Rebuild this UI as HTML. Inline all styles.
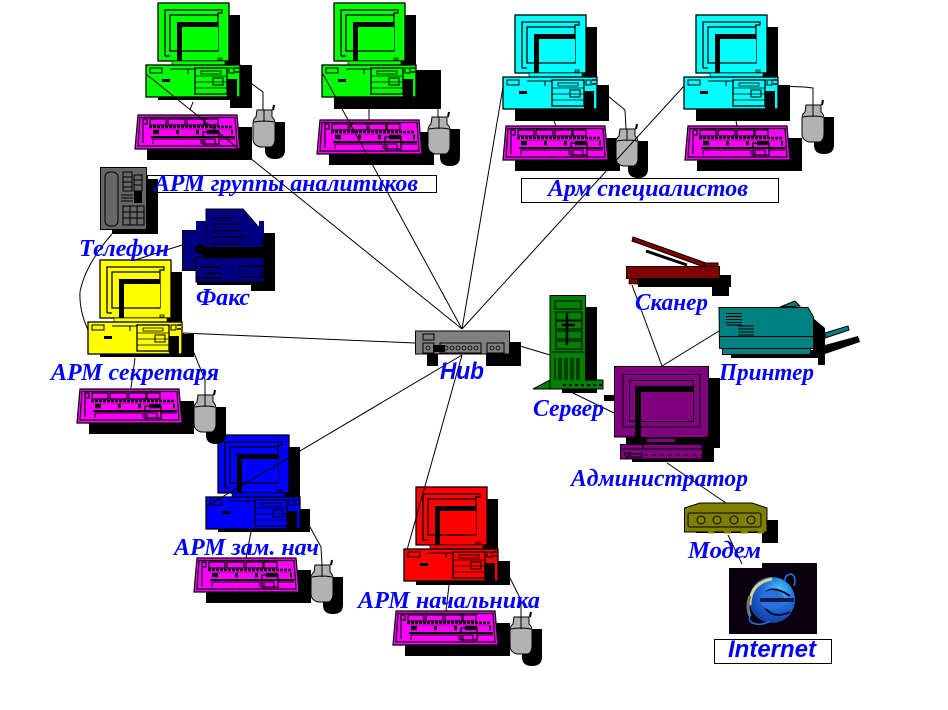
<!DOCTYPE html>
<html><head><meta charset="utf-8"><style>
html,body{margin:0;padding:0;background:#fff}
svg{display:block}
.t{font-family:"Liberation Serif","Noto Serif CJK SC",serif;font-style:italic;font-weight:bold;font-size:24px;fill:#00f}
.s{font-family:"Liberation Sans",sans-serif;font-style:italic;font-weight:bold;font-size:24px;fill:#00f}
</style></head><body>
<svg width="948" height="710" viewBox="0 0 948 710" xmlns="http://www.w3.org/2000/svg">
<defs>
<radialGradient id="ie" cx="65%" cy="30%" r="75%"><stop offset="0" stop-color="#4fd0f5"/><stop offset=".45" stop-color="#1f6fe0"/><stop offset="1" stop-color="#123a9c"/></radialGradient>
<g id="pc">
<rect x="40" y="-50" width="54" height="50" fill="#000"/>
<rect x="12" y="-62" width="71" height="58" fill="currentColor" stroke="#000" stroke-width="1.300"/>
<path d="M19 -9V-55H76V-52H72V-14H24V-50H72" fill="none" stroke="#000" stroke-width="1.300"/>
<path d="M19 -9H24" stroke="#000" stroke-width="1.300"/>
<rect x="36" y="-38" width="36" height="23" fill="currentColor"/>
<path d="M31 -43H72V-38H36V-15H36V-2H31Z" fill="#000"/>
<rect x="72" y="-7" width="4" height="2" fill="none" stroke="#000" stroke-width=".8"/>
<rect x="26" y="-4" width="53" height="4" fill="currentColor" stroke="#000" stroke-width=".6"/>
<rect x="0" y="0" width="94" height="32" fill="currentColor" stroke="#000" stroke-width="1.300"/>
<rect x="4" y="3" width="12" height="5" fill="none" stroke="#000"/>
<rect x="16" y="14" width="8" height="3" fill="#000"/>
<path d="M24 4H81M42 4V9" stroke="#000" fill="none"/>
<rect x="49" y="3" width="32" height="26" fill="currentColor" stroke="#000" stroke-width="1.300"/>
<rect x="55" y="6" width="20" height="3" fill="none" stroke="#000" stroke-width=".8"/>
<path d="M49 11H81M49 17H81M49 23H81" stroke="#000" stroke-width=".8"/>
<rect x="67" y="13" width="10" height="7" fill="none" stroke="#000"/>
<rect x="83" y="3" width="5" height="5" fill="none" stroke="#000"/>
<path d="M89 3H93M89 7H93" stroke="#000" stroke-width="1.400"/>
<rect x="81" y="14" width="10" height="18" fill="#000"/>
</g>
<g id="kb">
<rect x="12" y="12" width="105" height="33" fill="#000"/>
<path d="M3 0H102L105 34H0Z" fill="#f0f" stroke="#000" stroke-width="1.200"/>
<path d="M5 2.500H100L102 31H3Z" fill="none" stroke="#000" stroke-width="1.200"/>
<g fill="none" stroke="#000" stroke-width="1.200"><rect x="15" y="4" width="16" height="6"/><rect x="33" y="4" width="17" height="6"/><rect x="52" y="4" width="17" height="6"/><rect x="70" y="4" width="13" height="6"/><rect x="8" y="4" width="4" height="5"/></g>
<path d="M14 12H98" stroke="#000" stroke-width="2.500" stroke-dasharray="3 1"/>
<path d="M18 17H98" stroke="#000" stroke-width="4.500"/>
<rect x="24" y="15" width="17" height="6" fill="#f0f"/><rect x="44" y="15" width="17" height="6" fill="#f0f"/><rect x="64" y="15" width="8" height="6" fill="#f0f"/><rect x="84" y="15" width="12" height="6" fill="#f0f"/>
<path d="M16 22H100" stroke="#000" stroke-width="2"/>
<path d="M18 29V24H66V29M70 30V24H80V30M84 30V24H100" fill="none" stroke="#000"/>
<path d="M68 17H84V29H68Z" fill="none" stroke="#000" stroke-width="1.300"/>
<path d="M8 10V28" stroke="#000" stroke-width="1.200"/>
</g>
<g id="ms">
<path d="M12 12H32V40Q32 49 22 49Q12 49 12 40Z" fill="#000"/>
<path d="M4 0H19L19 7Q22 9 22 14V29Q22 35 18 37H7Q0 35 0 29V14Q0 9 3 7Z" fill="#b2b2b2" stroke="#000"/>
<path d="M11 0V12M1 12Q11 10 21 12" fill="none" stroke="#000"/>
<path d="M20 0L21 -5" stroke="#000" stroke-width="2"/>
</g>
</defs>

<!-- boxes -->
<rect x="147.500" y="175.500" width="289" height="17" fill="#fff" stroke="#000"/>
<rect x="521.500" y="178.500" width="257" height="24" fill="#fff" stroke="#000"/>
<rect x="714.500" y="639.500" width="117" height="24" fill="#fff" stroke="#000"/>

<!-- shadows of case bottoms -->
<path d="M158 65H252V108H230V100H158Z" fill="#000"/>
<rect x="334" y="70" width="107" height="39" fill="#000"/>
<rect x="515" y="85" width="94" height="36" fill="#000"/>
<rect x="696" y="85" width="94" height="36" fill="#000"/>
<rect x="100" y="334" width="94" height="23" fill="#000"/>
<rect x="218" y="509" width="92" height="23" fill="#000"/>
<rect x="416" y="561" width="94" height="24" fill="#000"/>

<use href="#pc" x="146" y="65" color="#00ff00"/>
<use href="#pc" x="322" y="65" color="#00ff00"/>
<use href="#pc" x="503" y="77" color="#00ffff"/>
<use href="#pc" x="684" y="77" color="#00ffff"/>
<use href="#pc" x="88" y="322" color="#ffff00"/>
<use href="#pc" x="206" y="497" color="#0000ff"/>
<use href="#pc" x="404" y="549" color="#ff0000"/>

<use href="#kb" x="135" y="115"/>
<use href="#kb" x="317" y="120"/>
<use href="#kb" x="503" y="126"/>
<use href="#kb" x="685" y="126"/>
<use href="#kb" x="77" y="389"/>
<use href="#kb" x="194" y="558"/>
<use href="#kb" x="393" y="611"/>

<use href="#ms" x="253" y="110"/>
<use href="#ms" x="428" y="117"/>
<use href="#ms" x="616" y="129"/>
<use href="#ms" x="802" y="105"/>
<use href="#ms" x="194" y="395"/>
<use href="#ms" x="311" y="565"/>
<use href="#ms" x="510" y="617"/>

<!-- phone -->
<rect x="112" y="179" width="46" height="55" fill="#000"/>
<rect x="100.500" y="167.500" width="46" height="62" fill="#666" stroke="#000"/>
<rect x="105" y="172" width="13" height="54" rx="5" fill="none" stroke="#000"/>
<g fill="none" stroke="#000"><rect x="123" y="172" width="9" height="19"/><rect x="134" y="175" width="8" height="16"/><rect x="123" y="206" width="21" height="19"/><path d="M123 177H132M123 182H132M123 187H132M134 180H142M134 185H142M130 206V225M137 206V225M123 212H144M123 218H144M121 195H133M121 198H133M121 201H133"/></g>
<rect x="134" y="191" width="8" height="12" fill="#000"/>

<!-- fax -->
<path d="M263 233H275V291H251V285H197V282H263Z" fill="#000"/>
<rect x="182.500" y="230.500" width="14" height="40" fill="#000080" stroke="#000"/>
<path d="M206 209H243L263 232V258H206Z" fill="#000080" stroke="#000"/>
<rect x="196" y="221" width="10" height="40" fill="#000080"/>
<rect x="259" y="221" width="5" height="18" fill="#000080"/>
<path d="M212 218H232M212 224H240M212 231H240M212 237H246M212 244H240" stroke="#000"/>
<path d="M196 257H264V282H196Z" fill="#000080" stroke="#000"/>
<rect x="203" y="247" width="61" height="11" fill="#000"/>
<circle cx="200" cy="249" r="5" fill="#000"/>
<rect x="240" y="266" width="22" height="11" fill="none" stroke="#000"/>
<path d="M200 267H220M205 273H220M197 278H222" stroke="#000" stroke-width="1.300"/>

<!-- hub -->
<rect x="427" y="345" width="11" height="21" fill="#000"/>
<rect x="486" y="342" width="35" height="24" fill="#000"/>
<rect x="415.500" y="331" width="94" height="23" fill="#808080" stroke="#000"/>
<rect x="423" y="334" width="11" height="6" fill="none" stroke="#000"/>
<g fill="none" stroke="#000"><rect x="423" y="343" width="11" height="10"/><rect x="440" y="343" width="41" height="10"/><rect x="487" y="343" width="17" height="10"/></g>
<rect x="433" y="345" width="12" height="7" fill="#000"/>
<g fill="none" stroke="#000" stroke-width=".8"><circle cx="428" cy="348" r="2"/><circle cx="446" cy="348" r="2"/><circle cx="452" cy="348" r="2"/><circle cx="458" cy="348" r="2"/><circle cx="464" cy="348" r="2"/><circle cx="470" cy="348" r="2"/><circle cx="476" cy="348" r="2"/><circle cx="492" cy="348" r="2"/><circle cx="498" cy="348" r="2"/></g>

<!-- server -->
<rect x="586" y="307" width="11" height="86" fill="#000"/>
<rect x="562" y="389" width="35" height="4" fill="#000"/>
<path d="M533 389L550 380V295.500H585.500V380H603V389Z" fill="#008000" stroke="#000"/>
<g fill="none" stroke="#000"><rect x="555" y="301" width="26" height="8"/><rect x="556" y="312" width="26" height="8"/><rect x="556" y="321" width="26" height="8"/><rect x="556" y="331" width="26" height="8"/><rect x="556" y="341" width="26" height="8"/><path d="M555 358V380M561 358V380M567 358V380M573 358V380M579 358V380M559 358V380M565 358V380M571 358V380M577 358V380M550 380V389M552 352H585"/></g>
<path d="M567 313V345M562 325H575" stroke="#000" stroke-width="2.500"/>
<path d="M563 385H603" stroke="#000" stroke-width="2" stroke-dasharray="3 3"/>

<!-- scanner -->
<path d="M638 275H731V287H729V296H712V287H638Z" fill="#000"/>
<path d="M633 237L706 263L704 267L632 241Z" fill="#800000" stroke="#000"/>
<path d="M646 251L687 265" stroke="#000" stroke-width="3"/>
<rect x="704" y="263" width="14" height="4" fill="#800000" stroke="#000"/>
<rect x="626.500" y="266.500" width="93" height="12" fill="#800000" stroke="#000"/>
<rect x="629" y="279" width="9" height="5" fill="#800000" stroke="#000" stroke-width=".6"/>

<!-- printer -->
<path d="M813 318L825 328V345L858 336L860 342L825 354V365H818V358H731V350H813Z" fill="#000"/>
<path d="M780 307L795 301L800 306Z" fill="#008080" stroke="#000"/>
<path d="M825 333L848 326L849 330L825 338Z" fill="#008080" stroke="#000"/>
<path d="M719 307.500H808L813.500 317V348.500H719.500Z" fill="#008080" stroke="#000"/>
<rect x="722.500" y="348.500" width="88" height="6" fill="#008080" stroke="#000"/>
<path d="M719 336.500H813" stroke="#000"/>
<path d="M726 313.500H742M726 316.500H742M726 319.500H742M726 322.500H742M726 325H742M738 326H754M738 329H754M738 332H754M738 335H754" stroke="#000" stroke-width=".9"/>

<!-- admin -->
<path d="M626 378H720V448H714V462H632V448H626Z" fill="#000"/>
<rect x="604" y="395" width="10" height="6" fill="#000"/>
<rect x="614.500" y="366.500" width="94" height="70.500" fill="#800080" stroke="#000"/>
<path d="M623 427V374.500H700V427M623 427H700" fill="none" stroke="#000"/>
<rect x="629.500" y="380.500" width="64" height="41" fill="none" stroke="#000"/>
<rect x="641" y="392" width="52" height="29" fill="#800080"/>
<path d="M635 386H694V392H641V437H635Z" fill="#000"/>
<rect x="641" y="430" width="65" height="7" fill="#800080"/>
<path d="M626 437H708V444H626Z" fill="#000"/>
<rect x="647" y="439" width="28" height="3" fill="#800080"/>
<rect x="620.500" y="444.500" width="82" height="14.500" fill="#800080" stroke="#000"/>
<path d="M620 449H703M643 444V449" stroke="#000"/>
<rect x="630" y="454" width="12" height="3" fill="none" stroke="#000"/>
<path d="M624 453L630 453L627 458Z" fill="none" stroke="#000"/>
<path d="M645 455H702" stroke="#000" stroke-dasharray="3 5"/>

<!-- modem -->
<path d="M696 520H778V543H762V533H696Z" fill="#000"/>
<path d="M684.500 508L700 503H752L767 508V532H684.500Z" fill="#808000" stroke="#000"/>
<rect x="688" y="513" width="73" height="14" rx="2" fill="none" stroke="#000"/>
<g fill="none" stroke="#000"><circle cx="701" cy="520" r="4"/><circle cx="717" cy="520" r="4"/><circle cx="734" cy="520" r="4"/><circle cx="751" cy="520" r="4"/></g>
<path d="M708 532H714M724 532H731M741 532H748M758 532H764" stroke="#808000" stroke-width="3"/>

<!-- internet -->
<path d="M729 568H762V563H817V634H729Z" fill="#09000f"/>
<circle cx="772" cy="600" r="23" fill="url(#ie)"/>
<path d="M750 605Q750 583 772 579" fill="none" stroke="#e0d080" stroke-width="3"/>
<path d="M750 596Q746 606 750 616" fill="none" stroke="#777" stroke-width="3"/>
<path d="M762 600H792M764 606Q772 620 790 612M764 594Q772 584 790 596" fill="none" stroke="#0a0a40" stroke-width="2"/>
<ellipse cx="772" cy="600" rx="12" ry="10" fill="#2a70d8"/>
<rect x="760" y="598" width="34" height="4" fill="#101850"/>
<path d="M785 582Q784 575 791 574Q797 576 794 586M751 614Q746 622 756 624Q764 625 770 621" fill="none" stroke="#2a70e0" stroke-width="1.500"/>

<!-- connectors -->
<g fill="none" stroke="#000" stroke-width="1">
<path d="M146 74L462 329M323 74L462 329M503 87L462 329M684 86L462 329M183 333L415 343M207 506L462 355M407 550L462 355M510 343L550 355"/>
<path d="M112 234Q85 265 80 292Q79 310 88 330"/>
<path d="M182 245L135 260M135 358L131 388M193 102L190 110M369 109V120M554 121L556 126M736 121L737 126M251 532L246 558M449 585L446 611"/>
<path d="M240 75L263 92V110M416 75L438 98V117M597 87L625 110L626 129M779 86L804 87L813 88V105M183 333L194 353L205 380V395M310 527L321 547L322 565M510 578L521 600V617"/>
<path d="M573 393L614 413M632 285L662 366L719 331M667 463L726 503M728 535L742 564"/>
</g>

<!-- labels -->
<text class="t" x="154" y="191" textLength="264" lengthAdjust="spacingAndGlyphs">АРМ группы аналитиков</text>
<text class="t" x="548" y="196" textLength="200" lengthAdjust="spacingAndGlyphs">Арм специалистов</text>
<text class="t" x="79" y="256" textLength="90" lengthAdjust="spacingAndGlyphs">Телефон</text>
<text class="t" x="196" y="305" textLength="54" lengthAdjust="spacingAndGlyphs">Факс</text>
<text class="t" x="51" y="380" textLength="168" lengthAdjust="spacingAndGlyphs">АРМ секретаря</text>
<text class="s" x="440" y="379" textLength="44" lengthAdjust="spacingAndGlyphs">Hub</text>
<text class="t" x="533" y="416" textLength="71" lengthAdjust="spacingAndGlyphs">Сервер</text>
<text class="t" x="635" y="310" textLength="73" lengthAdjust="spacingAndGlyphs">Сканер</text>
<text class="t" x="719" y="380" textLength="95" lengthAdjust="spacingAndGlyphs">Принтер</text>
<text class="t" x="571" y="486" textLength="177" lengthAdjust="spacingAndGlyphs">Администратор</text>
<text class="t" x="688" y="558" textLength="73" lengthAdjust="spacingAndGlyphs">Модем</text>
<text class="t" x="174" y="555" textLength="145" lengthAdjust="spacingAndGlyphs">АРМ зам. нач</text>
<text class="t" x="358" y="608" textLength="182" lengthAdjust="spacingAndGlyphs">АРМ начальника</text>
<text class="s" x="728" y="657" textLength="88" lengthAdjust="spacingAndGlyphs">Internet</text>
</svg>
</body></html>
